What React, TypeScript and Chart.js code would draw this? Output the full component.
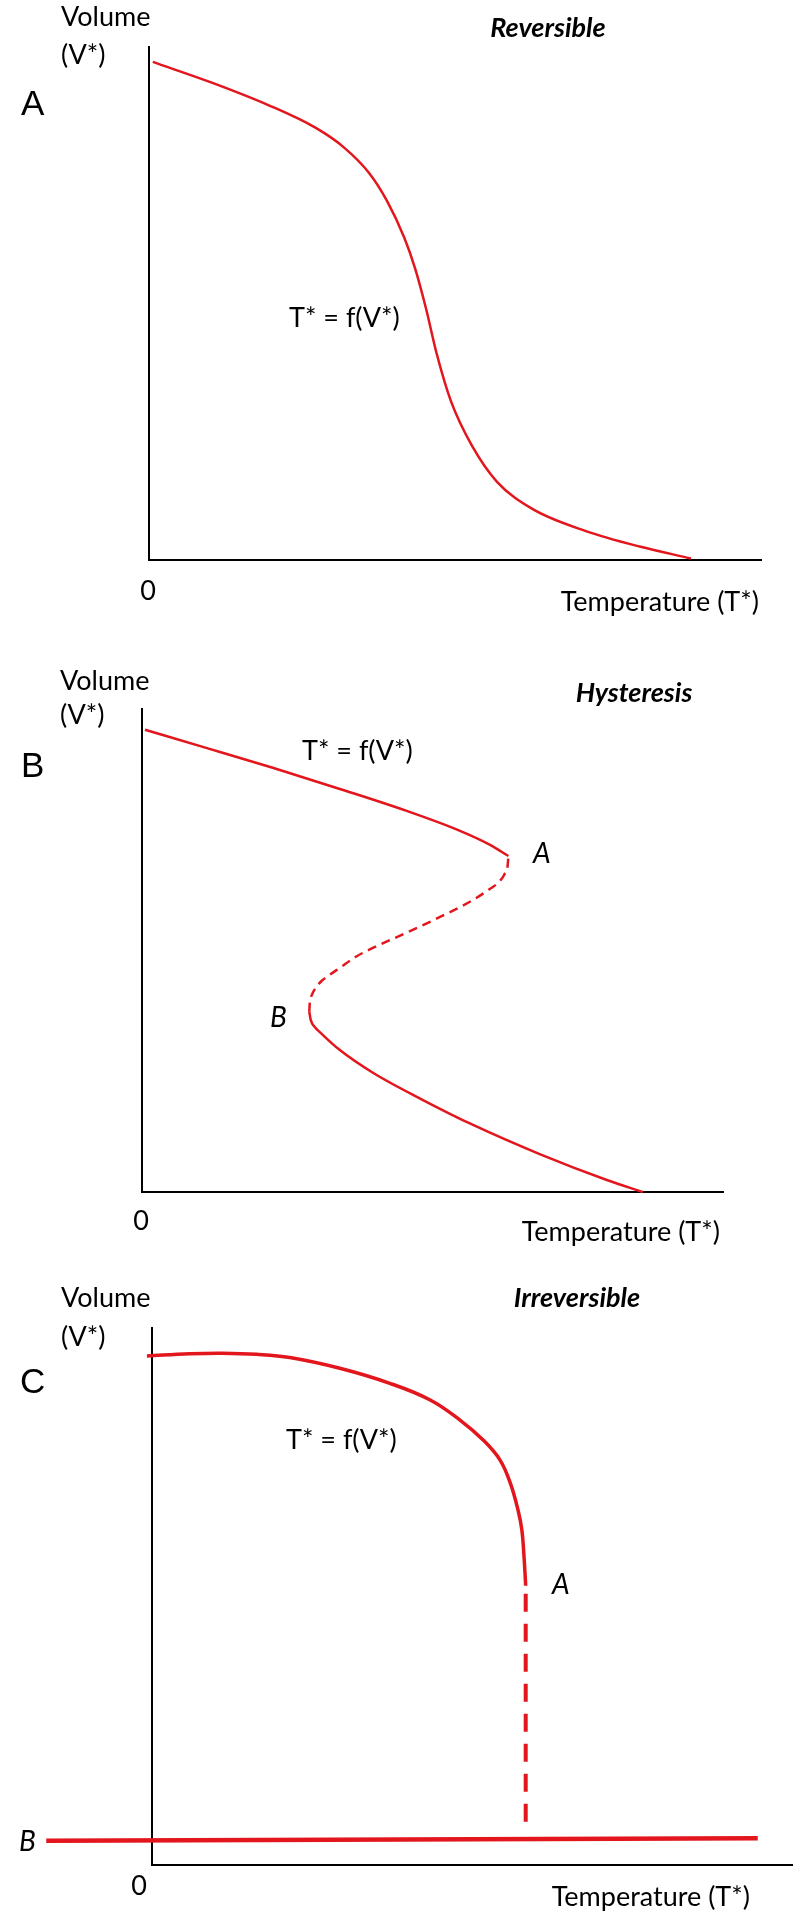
import React, { useEffect, useRef } from "react";
import { Chart, registerables } from "chart.js";

Chart.register(...registerables);

// ---------- Panel A : Reversible ----------
const revTemp = [0.7, 11.7, 22.1, 30.7, 36.0, 40.6, 43.9, 47.1, 49.1, 51.1, 53.1, 55.7, 59.6, 64.2, 70.8, 80.6, 90.5, 100];
const revVol = [100, 95.8, 91.3, 86.8, 82.8, 77.7, 72.1, 64.7, 58.5, 50.5, 41.3, 31.9, 22.9, 15.7, 10.2, 5.8, 2.7, 0.3];

// ---------- Panel B : Hysteresis ----------
const hysUpperTemp = [0.6, 12.8, 26.1, 39.5, 52.7, 62.9, 69.5, 73.15];
const hysUpperVol = [100, 96.1, 91.8, 87.2, 82.5, 78.4, 75.1, 72.7];
const hysMidTemp = [33.4, 33.5, 33.9, 34.7, 35.9, 37.5, 39.5, 42.7, 46.1, 52.8, 59.5, 66.1, 69.5, 71.3, 72.4, 73.0, 73.15];
const hysMidVol = [39.0, 40.9, 42.6, 44.2, 45.7, 47.0, 48.5, 50.9, 52.8, 56.1, 59.5, 63.2, 65.6, 67.1, 68.8, 70.6, 72.7];
const hysLowerTemp = [33.4, 33.7, 34.5, 35.5, 39.5, 46.1, 56.1, 66.1, 79.4, 92.8, 100];
const hysLowerVol = [39.0, 37.2, 35.7, 34.6, 30.7, 25.8, 19.9, 14.5, 8.2, 2.6, 0];

// ---------- Panel C : Irreversible ----------
const irrTemp = [-0.8, 5.9, 11.0, 16.3, 21.5, 29.3, 37.1, 43.4, 48.0, 51.7, 54.3, 55.9, 57.1, 57.7, 58.0, 58.3];
const irrVol = [94.8, 95.2, 95.3, 95.1, 94.5, 92.5, 89.7, 86.6, 82.9, 79.1, 75.4, 71.1, 66.1, 62.4, 58.1, 52.0];
const irrDropTemp = [58.3, 58.3];
const irrDropVol = [50.5, 6.7];
const irrBTemp = [-16.5, 94.5];
const irrBVol = [4.5, 5.0];

// axis extents (data units)
const axisA = { xMax: 112.9, yMax: 103.0 };
const axisB = { xMax: 116.0, yMax: 104.5 };
const axisC = { xMax: 100, yMax: 100 };

const RED = "rgb(226, 22, 28)";
const BODY = "Lato, 'Open Sans', sans-serif";
const LETTER = "'Liberation Sans', Arial, sans-serif";

type Item = { text: string; x: number; y: number; font: string; align: CanvasTextAlign };

const fReg = `27px ${BODY}`;
const fTitle = `italic bold 27px ${BODY}`;
const fIt = `italic 28px ${BODY}`;
const fLetter = `35px ${LETTER}`;

const textsA: Item[] = [
  { text: "Volume", x: 61, y: 17, font: fReg, align: "left" },
  { text: "(V*)", x: 61, y: 55, font: fReg, align: "left" },
  { text: "A", x: 21, y: 105, font: fLetter, align: "left" },
  { text: "Reversible", x: 548, y: 28, font: fTitle, align: "center" },
  { text: "T* = f(V*)", x: 289, y: 318, font: fReg, align: "left" },
  { text: "0", x: 148, y: 591, font: fReg, align: "center" },
  { text: "Temperature (T*)", x: 759, y: 602, font: fReg, align: "right" },
];
const textsB: Item[] = [
  { text: "Volume", x: 60, y: 41, font: fReg, align: "left" },
  { text: "(V*)", x: 60, y: 75, font: fReg, align: "left" },
  { text: "B", x: 21, y: 127, font: fLetter, align: "left" },
  { text: "Hysteresis", x: 634, y: 53, font: fTitle, align: "center" },
  { text: "T* = f(V*)", x: 302, y: 111, font: fReg, align: "left" },
  { text: "A", x: 533, y: 214, font: fIt, align: "left" },
  { text: "B", x: 270, y: 378, font: fIt, align: "left" },
  { text: "0", x: 141, y: 581, font: fReg, align: "center" },
  { text: "Temperature (T*)", x: 720, y: 592, font: fReg, align: "right" },
];
const textsC: Item[] = [
  { text: "Volume", x: 61, y: 18, font: fReg, align: "left" },
  { text: "(V*)", x: 61, y: 57, font: fReg, align: "left" },
  { text: "C", x: 20, y: 103, font: fLetter, align: "left" },
  { text: "Irreversible", x: 577, y: 18, font: fTitle, align: "center" },
  { text: "T* = f(V*)", x: 286, y: 160, font: fReg, align: "left" },
  { text: "A", x: 552, y: 305, font: fIt, align: "left" },
  { text: "B", x: 19, y: 562, font: fIt, align: "left" },
  { text: "0", x: 139, y: 606, font: fReg, align: "center" },
  { text: "Temperature (T*)", x: 750, y: 617, font: fReg, align: "right" },
];

const pts = (xs: number[], ys: number[]) => xs.map((x, i) => ({ x, y: ys[i] }));

const makeTextPlugin = (items: Item[]) => ({
  id: "panelText",
  afterDraw(chart: any) {
    const ctx = chart.ctx as CanvasRenderingContext2D;
    ctx.save();
    ctx.fillStyle = "#000";
    ctx.textBaseline = "middle";
    for (const t of items) {
      ctx.font = t.font;
      ctx.textAlign = t.align;
      ctx.fillText(t.text, t.x, t.y);
    }
    ctx.restore();
  },
});

const makeOptions = (ax: { xMax: number; yMax: number }, padding: any) => ({
  responsive: false,
  maintainAspectRatio: false,
  animation: false as const,
  devicePixelRatio: 1,
  events: [],
  layout: { padding },
  plugins: { legend: { display: false }, tooltip: { enabled: false }, title: { display: false } },
  elements: { point: { radius: 0 } },
  scales: {
    x: {
      type: "linear" as const,
      min: 0,
      max: ax.xMax,
      ticks: { display: false },
      grid: { display: false, drawTicks: false },
      border: { display: true, color: "#000", width: 2 },
    },
    y: {
      type: "linear" as const,
      min: 0,
      max: ax.yMax,
      ticks: { display: false },
      grid: { display: false, drawTicks: false },
      border: { display: true, color: "#000", width: 2 },
    },
  },
});

const line = (data: any[], extra: any = {}) => ({
  data,
  borderColor: RED,
  backgroundColor: RED,
  borderWidth: 2.5,
  pointRadius: 0,
  fill: false,
  clip: false as const,
  ...extra,
});

function Panel({ top, height, build }: { top: number; height: number; build: (c: HTMLCanvasElement) => Chart }) {
  const ref = useRef<HTMLCanvasElement | null>(null);
  useEffect(() => {
    if (!ref.current) return;
    const chart = build(ref.current);
    return () => chart.destroy();
  }, []);
  return (
    <canvas
      ref={ref}
      width={793}
      height={height}
      style={{ position: "absolute", left: 0, top, width: 793, height }}
    />
  );
}

const buildA = (c: HTMLCanvasElement) =>
  new Chart(c, {
    type: "line",
    data: { datasets: [line(pts(revTemp, revVol), { cubicInterpolationMode: "monotone" })] },
    options: makeOptions(axisA, { left: 149, right: 32, top: 47, bottom: 80 }) as any,
    plugins: [makeTextPlugin(textsA)],
  });

const buildB = (c: HTMLCanvasElement) =>
  new Chart(c, {
    type: "line",
    data: {
      datasets: [
        line(pts(hysUpperTemp, hysUpperVol), { cubicInterpolationMode: "monotone" }),
        line(pts(hysMidTemp, hysMidVol), { cubicInterpolationMode: "monotone", borderDash: [9, 6] }),
        line(pts(hysLowerTemp, hysLowerVol), { cubicInterpolationMode: "monotone" }),
      ],
    },
    options: makeOptions(axisB, { left: 142, right: 70, top: 69, bottom: 88 }) as any,
    plugins: [makeTextPlugin(textsB)],
  });

const buildC = (c: HTMLCanvasElement) =>
  new Chart(c, {
    type: "line",
    data: {
      datasets: [
        line(pts(irrTemp, irrVol), { tension: 0.4, borderWidth: 3.5 }),
        line(pts(irrDropTemp, irrDropVol), { borderWidth: 4, borderDash: [18, 12] }),
        line(pts(irrBTemp, irrBVol), { borderWidth: 4.5 }),
      ],
    },
    options: makeOptions(axisC, { left: 152, right: 0, top: 48, bottom: 49 }) as any,
    plugins: [makeTextPlugin(textsC)],
  });

export default function App() {
  return (
    <div style={{ position: "absolute", left: 0, top: 0, width: 793, height: 1914, background: "#fff" }}>
      <Panel top={0} height={640} build={buildA} />
      <Panel top={640} height={640} build={buildB} />
      <Panel top={1280} height={634} build={buildC} />
    </div>
  );
}
